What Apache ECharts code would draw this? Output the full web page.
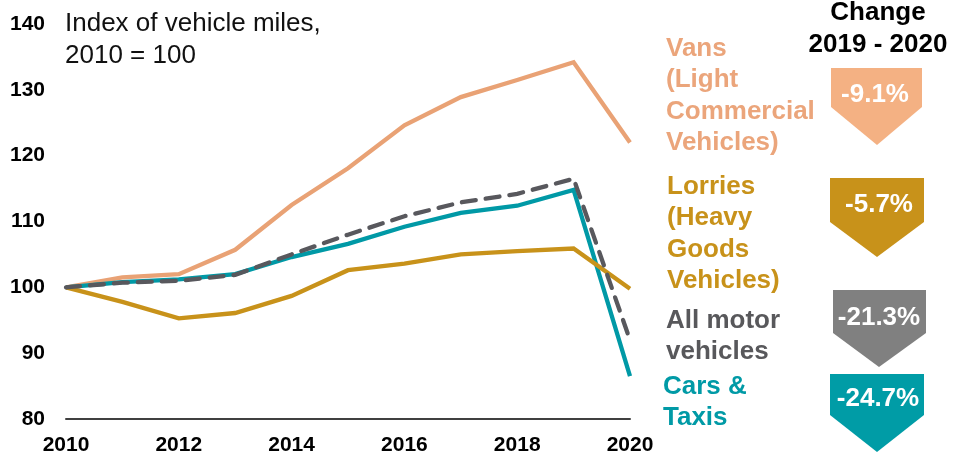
<!DOCTYPE html>
<html>
<head>
<meta charset="utf-8">
<title>Vehicle miles index</title>
<script src="https://cdn.jsdelivr.net/npm/echarts@6/dist/echarts.min.js"></script>
<style>
  html, body { margin: 0; padding: 0; background: #fff; }
  #main { width: 964px; height: 456px; }
</style>
</head>
<body>
<div id="main"></div>
<script>
var years = ['2010', '2011', '2012', '2013', '2014', '2015', '2016', '2017', '2018', '2019', '2020'];
var vans = [100, 101.5, 102.0, 105.7, 112.5, 118.1, 124.6, 128.9, 131.5, 134.2, 122.0];
var lorries = [100, 97.8, 95.3, 96.1, 98.7, 102.6, 103.6, 105.0, 105.5, 105.9, 99.8];
var cars = [100, 100.8, 101.2, 102.0, 104.6, 106.6, 109.2, 111.3, 112.4, 114.8, 86.5];
var allMotor = [100, 100.7, 101.0, 101.9, 105.0, 108.0, 110.8, 112.9, 114.2, 116.5, 92.0];
var changeLabels = ['-9.1%', '-5.7%', '-21.3%', '-24.7%'];

var font = 'Liberation Sans, Arial, sans-serif';
var chart = echarts.init(document.getElementById('main'));

// arrow badge for the "change" column
function arrow(pts, fill, label, cx, cy) {
    return [
        { type: 'polygon', shape: { points: pts }, style: { fill: fill } },
        {
            type: 'text', x: cx, y: cy,
            style: {
                text: label, fill: '#fff', font: 'bold 26px ' + font,
                align: 'center', verticalAlign: 'middle'
            }
        }
    ];
}

function label(x, y, txt, color) {
    return {
        type: 'text', x: x, y: y,
        style: {
            text: txt, fill: color, font: 'bold 26px ' + font,
            lineHeight: 31.5, verticalAlign: 'top'
        }
    };
}

var graphics = [
    {
        type: 'text', x: 65, y: 8,
        style: {
            text: 'Index of vehicle miles,\n2010 = 100', fill: '#111',
            font: '26px ' + font, lineHeight: 32, verticalAlign: 'top'
        }
    },
    {
        type: 'text', x: 878, y: -3,
        style: {
            text: 'Change\n2019 - 2020', fill: '#000', font: 'bold 26px ' + font,
            lineHeight: 32, align: 'center', verticalAlign: 'top'
        }
    },
    label(666, 33, 'Vans\n(Light\nCommercial\nVehicles)', '#EBA57B'),
    label(667, 171, 'Lorries\n(Heavy\nGoods\nVehicles)', '#C8921A'),
    label(666, 305, 'All motor\nvehicles', '#58585B'),
    label(663, 371, 'Cars &\nTaxis', '#009AA6')
];

graphics = graphics
    .concat(arrow([[831, 68], [922, 68], [922, 107], [877, 145], [831, 107]], '#F4B183', changeLabels[0], 875, 95))
    .concat(arrow([[830, 178], [924, 178], [924, 222], [877, 257], [830, 222]], '#C8921A', changeLabels[1], 879, 205))
    .concat(arrow([[833, 290], [926, 290], [926, 333], [879, 367], [833, 333]], '#808080', changeLabels[2], 879, 318))
    .concat(arrow([[830, 374], [924, 374], [924, 415], [877, 452], [830, 415]], '#009CA6', changeLabels[3], 878, 399));

function lineSeries(name, data, color, dashed) {
    return {
        name: name,
        type: 'line',
        data: data,
        symbol: 'none',
        silent: true,
        lineStyle: {
            color: color,
            width: 4.3,
            type: dashed ? [14, 10] : 'solid',
            cap: dashed ? 'round' : 'butt',
            join: 'miter'
        }
    };
}

var option = {
    animation: false,
    backgroundColor: '#fff',
    grid: { left: 66, right: 334, top: 24, bottom: 37, outerBoundsMode: 'none' },
    xAxis: {
        type: 'category',
        data: years,
        boundaryGap: false,
        axisLine: { lineStyle: { color: '#404040', width: 2 } },
        axisTick: { show: false },
        axisLabel: {
            interval: 1, margin: 16, color: '#000',
            fontFamily: font, fontWeight: 'bold', fontSize: 21
        },
        splitLine: { show: false }
    },
    yAxis: {
        type: 'value',
        min: 80,
        max: 140,
        interval: 10,
        axisLine: { show: false },
        axisTick: { show: false },
        splitLine: { show: false },
        axisLabel: {
            margin: 21, color: '#000',
            fontFamily: font, fontWeight: 'bold', fontSize: 21
        }
    },
    series: [
        lineSeries('Vans', vans, '#E9A275', false),
        lineSeries('Cars & Taxis', cars, '#0099A6', false),
        lineSeries('Lorries', lorries, '#C8921A', false),
        lineSeries('All motor vehicles', allMotor, '#58585D', true)
    ],
    graphic: graphics
};

chart.setOption(option);
</script>
</body>
</html>
